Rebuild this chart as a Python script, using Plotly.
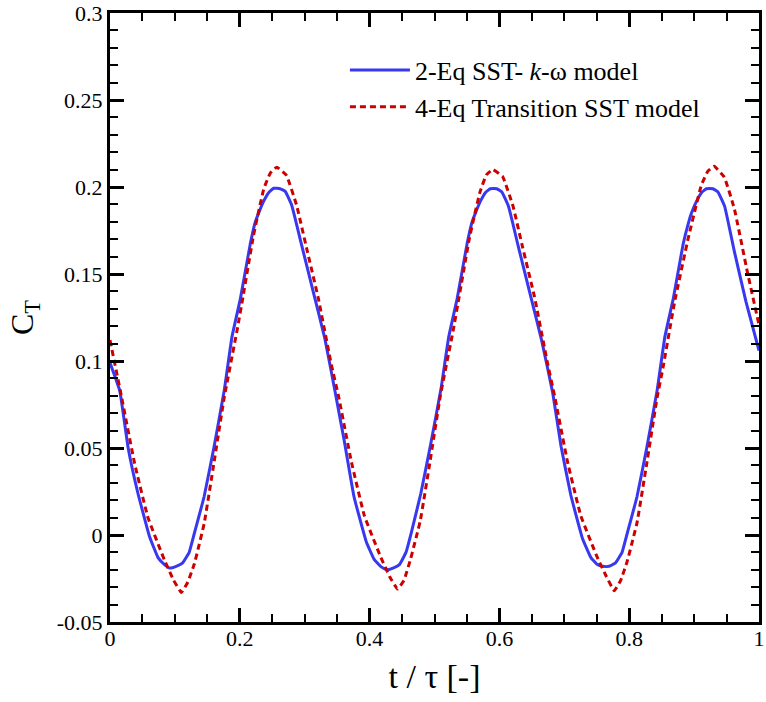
import plotly.graph_objects as go

# 2-Eq SST k-omega model
sst_t = [0.000, 0.015, 0.028, 0.043, 0.061, 0.074, 0.084, 0.092, 0.102, 0.112, 0.122, 0.130,
         0.145, 0.160, 0.176, 0.188, 0.201, 0.216, 0.224, 0.229, 0.237, 0.245, 0.252, 0.262,
         0.270, 0.280, 0.295, 0.313, 0.331,
         0.348, 0.361, 0.376, 0.395, 0.407, 0.417, 0.426, 0.436, 0.446, 0.456, 0.464, 0.479,
         0.494, 0.510, 0.522, 0.535, 0.550, 0.558, 0.563, 0.571, 0.579, 0.586, 0.596, 0.604,
         0.614, 0.629, 0.647, 0.665,
         0.682, 0.695, 0.710, 0.728, 0.741, 0.751, 0.759, 0.769, 0.779, 0.789, 0.797, 0.812,
         0.827, 0.843, 0.855, 0.868, 0.883, 0.891, 0.896, 0.904, 0.912, 0.919, 0.929, 0.937,
         0.947, 0.962, 0.980, 1.000]
sst_ct = [0.099, 0.083, 0.050, 0.024, -0.001, -0.013, -0.017, -0.019, -0.018, -0.016, -0.010, 0.001,
          0.022, 0.050, 0.083, 0.114, 0.136, 0.167, 0.180, 0.185, 0.192, 0.197, 0.1993, 0.199,
          0.1975, 0.1895, 0.167, 0.140, 0.113,
          0.080, 0.054, 0.022, -0.004, -0.014, -0.018, -0.020, -0.019, -0.017, -0.010, 0.001, 0.024,
          0.052, 0.084, 0.114, 0.136, 0.167, 0.180, 0.185, 0.192, 0.197, 0.199, 0.199, 0.197,
          0.189, 0.166, 0.139, 0.112,
          0.082, 0.051, 0.023, -0.002, -0.013, -0.017, -0.018, -0.018, -0.016, -0.010, 0.001, 0.022,
          0.050, 0.083, 0.114, 0.136, 0.167, 0.179, 0.185, 0.192, 0.197, 0.199, 0.199, 0.197,
          0.189, 0.163, 0.134, 0.106]

# 4-Eq Transition SST model
trans_t = [0.000, 0.018, 0.038, 0.0585, 0.084, 0.098, 0.110, 0.120, 0.130, 0.145, 0.160, 0.176,
           0.196, 0.205, 0.221, 0.237, 0.247, 0.257, 0.272, 0.2875, 0.303, 0.321, 0.341,
           0.352, 0.372, 0.392, 0.4175, 0.431, 0.443, 0.453, 0.463, 0.478, 0.493, 0.509, 0.529,
           0.538, 0.554, 0.570, 0.580, 0.590, 0.605, 0.621, 0.636, 0.654, 0.674,
           0.685, 0.705, 0.7255, 0.751, 0.765, 0.777, 0.787, 0.797, 0.812, 0.827, 0.843, 0.852,
           0.870, 0.8906, 0.911, 0.921, 0.931, 0.9466, 0.962, 0.982, 1.000]
trans_ct = [0.112, 0.079, 0.041, 0.010, -0.0145, -0.026, -0.033, -0.027, -0.0165, 0.0064, 0.041, 0.079,
            0.118, 0.137, 0.172, 0.199, 0.208, 0.2114, 0.2066, 0.1895, 0.1647, 0.136, 0.098,
            0.080, 0.042, 0.011, -0.013, -0.024, -0.031, -0.026, -0.014, 0.008, 0.042, 0.080, 0.118,
            0.137, 0.171, 0.197, 0.207, 0.210, 0.206, 0.189, 0.165, 0.137, 0.099,
            0.080, 0.042, 0.011, -0.013, -0.024, -0.032, -0.026, -0.015, 0.007, 0.041, 0.079, 0.096,
            0.134, 0.170, 0.2009, 0.209, 0.2119, 0.2056, 0.1875, 0.1513, 0.1208]

x_ticks = [0, 0.2, 0.4, 0.6, 0.8, 1]
x_labels = ["0", "0.2", "0.4", "0.6", "0.8", "1"]
y_ticks = [-0.05, 0, 0.05, 0.1, 0.15, 0.2, 0.25, 0.3]
y_labels = ["-0.05", "0", "0.05", "0.1", "0.15", "0.2", "0.25", "0.3"]

FONT = "Liberation Serif"

fig = go.Figure()
fig.add_trace(go.Scatter(x=sst_t, y=sst_ct, mode="lines", name="2-Eq SST- <i>k</i>-ω model",
                         line=dict(color="#3838f0", width=3, shape="spline", smoothing=0.3)))
fig.add_trace(go.Scatter(x=trans_t, y=trans_ct, mode="lines", name="4-Eq Transition SST model",
                         line=dict(color="#cc0000", width=3, dash="6px,4px", shape="spline", smoothing=0.3)))

axis_common = dict(
    showline=True, linewidth=3, linecolor="black", mirror="allticks",
    ticks="inside", ticklen=14, tickwidth=3, tickcolor="black",
    showgrid=False, zeroline=False, ticklabeloverflow="allow",
    tickfont=dict(family=FONT, size=22, color="black"),
)

fig.update_xaxes(range=[0, 1], tickvals=x_ticks, ticktext=x_labels, ticklabelstandoff=-5,
                 minor=dict(dtick=0.05, ticks="inside", ticklen=8, tickwidth=1.5, tickcolor="black", showgrid=False),
                 title=dict(text="t / τ [-]", font=dict(family=FONT, size=34, color="black"), standoff=14),
                 **axis_common)
fig.update_yaxes(range=[-0.05, 0.3], tickvals=y_ticks, ticktext=y_labels,
                 minor=dict(dtick=0.01, ticks="inside", ticklen=8, tickwidth=1.5, tickcolor="black", showgrid=False),
                 title=dict(text="C<sub>T</sub>", font=dict(family=FONT, size=32, color="black"), standoff=14),
                 **axis_common)

fig.update_layout(
    width=766, height=702,
    margin=dict(l=110, r=1, t=10, b=80),
    plot_bgcolor="white", paper_bgcolor="white",
    font=dict(family=FONT),
    legend=dict(x=0.362, y=0.945, xanchor="left", yanchor="top",
                font=dict(family=FONT, size=26, color="black"),
                bgcolor="rgba(0,0,0,0)", itemwidth=60, tracegroupgap=0),
    showlegend=True,
)

fig.write_html("out.html")
